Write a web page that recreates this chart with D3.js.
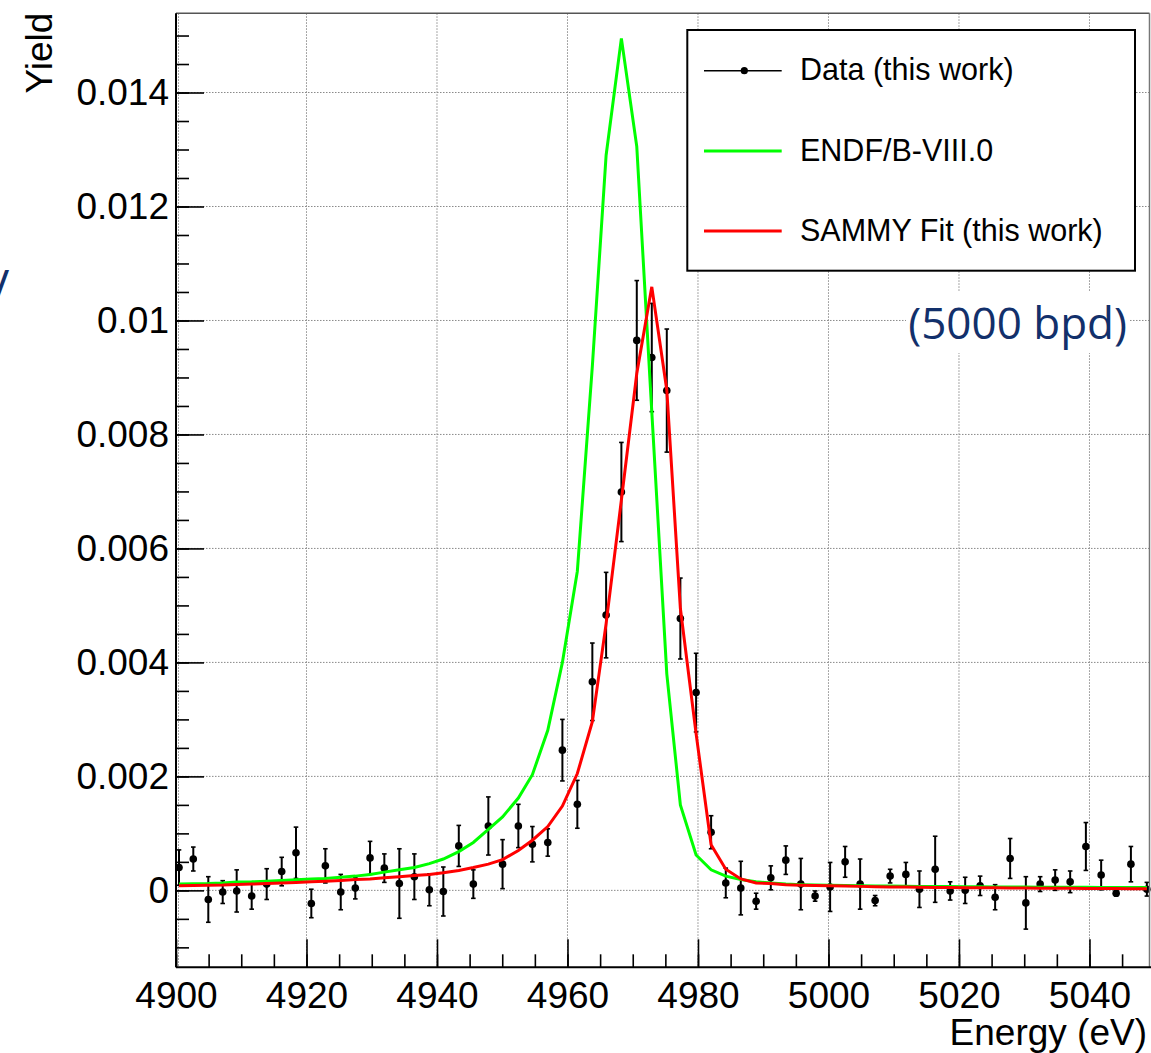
<!DOCTYPE html>
<html>
<head>
<meta charset="utf-8">
<script src="https://cdn.jsdelivr.net/npm/d3@7"></script>
<style>
  html, body { margin: 0; padding: 0; background: #fff; }
  svg { display: block; }
</style>
</head>
<body>
<svg id="chart" width="1151" height="1053"></svg>
<script>
// ---------------- data ----------------
const energies = [4900.46,4902.65,4904.95,4907.16,4909.30,4911.60,4913.90,4916.20,4918.39,4920.74,
  4922.89,4925.25,4927.48,4929.74,4931.93,4934.23,4936.53,4938.83,4940.97,4943.34,
  4945.57,4947.87,4950.05,4952.47,4954.62,4956.98,4959.22,4961.51,4963.81,4965.92,
  4968.26,4970.62,4972.92,4975.22,4977.30,4979.71,4982.01,4984.26,4986.56,4988.91,
  4991.16,4993.46,4995.76,4997.95,5000.25,5002.55,5004.85,5007.15,5009.45,5011.86,
  5013.94,5016.35,5018.65,5020.95,5023.24,5025.54,5027.84,5030.25,5032.44,5034.74,
  5037.04,5039.45,5041.79,5044.09,5046.35,5048.80];

const dataYield = [0.00040,0.00055,-0.00016,-0.00003,-0.00001,-0.00010,0.00011,0.00033,0.00066,-0.00023,
  0.00043,-0.00003,0.00004,0.00057,0.00039,0.00012,0.00024,0.00001,-0.00002,0.00078,
  0.00011,0.00113,0.00046,0.00113,0.00081,0.00084,0.00246,0.00151,0.00366,0.00483,
  0.00699,0.00965,0.00935,0.00877,0.00477,0.00347,0.00102,0.00013,0.00004,-0.00019,
  0.00022,0.00053,0.00011,-0.00010,0.00006,0.00050,0.00011,-0.00018,0.00025,0.00028,
  0.00002,0.00037,-0.00001,0.00000,0.00008,-0.00012,0.00056,-0.00022,0.00011,0.00018,
  0.00015,0.00077,0.00027,-0.00005,0.00046,0.00002];

const dataErr = [0.00031,0.00021,0.00040,0.00020,0.00037,0.00023,0.00027,0.00025,0.00045,0.00025,
  0.00030,0.00031,0.00019,0.00029,0.00025,0.00061,0.00040,0.00028,0.00043,0.00036,
  0.00025,0.00051,0.00043,0.00038,0.00031,0.00024,0.00054,0.00042,0.00068,0.00075,
  0.00087,0.00105,0.00095,0.00108,0.00071,0.00069,0.00029,0.00026,0.00047,0.00014,
  0.00021,0.00025,0.00045,0.00009,0.00043,0.00027,0.00044,0.00009,0.00012,0.00021,
  0.00032,0.00058,0.00016,0.00023,0.00017,0.00022,0.00035,0.00046,0.00013,0.00018,
  0.00019,0.00042,0.00026,0.00005,0.00031,0.00012];

const endfYield = [0.00011,0.000116,0.00012,0.00013,0.000146,0.00015,0.00016,0.000175,0.000186,0.00020,
  0.00021,0.00023,0.00025,0.00028,0.00032,0.00036,0.00040,0.00047,0.00055,0.00068,
  0.00084,0.00107,0.00129,0.00162,0.00203,0.00281,0.00400,0.00560,0.00920,0.01290,
  0.01495,0.01305,0.00840,0.00380,0.00150,0.00062,0.00036,0.00025,0.00019,0.00015,
  0.00013,0.00011,0.00010,0.000095,0.00009,0.000085,0.00008,0.000078,0.000075,0.000072,
  0.00007,0.000068,0.000066,0.000064,0.000062,0.00006,0.000058,0.000057,0.000056,0.000055,
  0.000054,0.000053,0.000052,0.000051,0.00005,0.00005];

const sammyYield = [0.00008,0.000084,0.000088,0.000093,0.000105,0.00011,0.00012,0.000128,0.00014,0.00015,
  0.00016,0.000175,0.00019,0.00020,0.00022,0.00024,0.00026,0.00028,0.00031,0.00035,
  0.00040,0.00046,0.00054,0.00070,0.00088,0.00112,0.00148,0.00205,0.00296,0.00468,
  0.00685,0.00907,0.01059,0.00878,0.00495,0.00275,0.00080,0.00037,0.00020,0.00013,
  0.00012,0.00010,0.00009,0.000085,0.00008,0.000075,0.00007,0.000065,0.00006,0.000058,
  0.000055,0.000052,0.00005,0.000048,0.000046,0.000044,0.000042,0.00004,0.000038,0.000036,
  0.000035,0.000034,0.000033,0.000032,0.00003,0.00003];

const xMajorTicks = [4900,4920,4940,4960,4980,5000,5020,5040];
const xTickLabels = ["4900","4920","4940","4960","4980","5000","5020","5040"];
const xMinorTicks = d3.range(4900, 5050, 5);
const yMajorTicks = [0,0.002,0.004,0.006,0.008,0.010,0.012,0.014];
const yTickLabels = ["0","0.002","0.004","0.006","0.008","0.01","0.012","0.014"];
const yMinorTicks = d3.range(-2, 31).map(i => i * 0.0005);

const legendLabels = ["Data (this work)", "ENDF/B-VIII.0", "SAMMY Fit (this work)"];
const xTitle = "Energy (eV)";
const yTitle = "Yield";
const noteText = "(5000 bpd)";

// ---------------- layout ----------------
const FONT = "'Liberation Sans', Arial, Helvetica, sans-serif";
const L = 176, R = 1149.5, T = 13.3, B = 967.3;
const x = d3.scaleLinear().domain([4900, 5049.2]).range([L, R]);
const y = d3.scaleLinear().domain([-0.00135, 0.01539]).range([B, T]);
const yDom = y.domain();

const svg = d3.select("#chart");

// grid
const grid = svg.append("g");
grid.selectAll("line.vg").data(xMajorTicks).join("line")
  .attr("x1", d => x(d) + (d === 4900 ? 2.5 : 0)).attr("x2", d => x(d) + (d === 4900 ? 2.5 : 0))
  .attr("y1", T).attr("y2", B)
  .attr("stroke", "#8a8a8a").attr("stroke-width", 1).attr("stroke-dasharray", "1.5,1.5");
grid.selectAll("line.hg").data(yMajorTicks).join("line")
  .attr("x1", L).attr("x2", R)
  .attr("y1", d => y(d)).attr("y2", d => y(d))
  .attr("stroke", "#8a8a8a").attr("stroke-width", 1).attr("stroke-dasharray", "1.5,1.5");

// note text with white background
const noteG = svg.append("g");
noteG.append("rect").attr("x", 906).attr("y", 292).attr("width", 224).attr("height", 61).attr("fill", "#fff");
noteG.append("text").attr("x", 1127).attr("y", 339)
  .attr("text-anchor", "end").attr("font-family", "'Open Sans', 'Noto Sans', sans-serif")
  .attr("font-size", 44).attr("fill", "#12306b").text(noteText);

// clipped fragment at left edge
svg.append("text").attr("x", 9).attr("y", 301)
  .attr("text-anchor", "end").attr("font-family", "'Open Sans', 'Noto Sans', sans-serif")
  .attr("font-size", 44).attr("fill", "#12306b").text("V");

// data points with error bars
const pts = energies.map((e, i) => ({e, v: dataYield[i], err: dataErr[i]}));
const dg = svg.append("g");
dg.selectAll("line.eb").data(pts).join("line")
  .attr("x1", d => x(d.e)).attr("x2", d => x(d.e))
  .attr("y1", d => y(d.v - d.err)).attr("y2", d => y(d.v + d.err))
  .attr("stroke", "#000").attr("stroke-width", 2);
dg.selectAll("line.capt").data(pts).join("line")
  .attr("x1", d => x(d.e) - 2.3).attr("x2", d => x(d.e) + 2.3)
  .attr("y1", d => y(d.v + d.err)).attr("y2", d => y(d.v + d.err))
  .attr("stroke", "#000").attr("stroke-width", 1.6);
dg.selectAll("line.capb").data(pts).join("line")
  .attr("x1", d => x(d.e) - 2.3).attr("x2", d => x(d.e) + 2.3)
  .attr("y1", d => y(d.v - d.err)).attr("y2", d => y(d.v - d.err))
  .attr("stroke", "#000").attr("stroke-width", 1.6);
dg.selectAll("circle").data(pts).join("circle")
  .attr("cx", d => x(d.e)).attr("cy", d => y(d.v)).attr("r", 3.8).attr("fill", "#000");

// curves
const line = d3.line().x(d => x(d[0])).y(d => y(d[1]));
svg.append("path").datum(energies.map((e, i) => [e, endfYield[i]]))
  .attr("d", line).attr("fill", "none").attr("stroke", "#00ff00").attr("stroke-width", 3)
  .attr("stroke-linejoin", "miter");
svg.append("path").datum(energies.map((e, i) => [e, sammyYield[i]]))
  .attr("d", line).attr("fill", "none").attr("stroke", "#ff0000").attr("stroke-width", 3)
  .attr("stroke-linejoin", "miter");

// frame
svg.append("line").attr("x1", L).attr("x2", R).attr("y1", T).attr("y2", T).attr("stroke", "#555").attr("stroke-width", 1.5);
svg.append("line").attr("x1", R).attr("x2", R).attr("y1", T).attr("y2", B).attr("stroke", "#777").attr("stroke-width", 1.5);

// axes
const yMinorAxis = d3.axisLeft(y)
  .tickValues(yMinorTicks.filter(v => v >= yDom[0] && v <= yDom[1]))
  .tickSizeInner(-13).tickSizeOuter(0).tickFormat("");
const yMajorAxis = d3.axisLeft(y).tickValues(yMajorTicks).tickSizeInner(-28).tickSizeOuter(0).tickPadding(7)
  .tickFormat((d, i) => yTickLabels[i]);
const xMinorAxis = d3.axisBottom(x).tickValues(xMinorTicks).tickSizeInner(-13).tickSizeOuter(0).tickFormat("");
const xMajorAxis = d3.axisBottom(x).tickValues(xMajorTicks).tickSizeInner(-28).tickSizeOuter(0).tickPadding(14)
  .tickFormat((d, i) => xTickLabels[i]);

function styleAxis(g) {
  g.select(".domain").remove();
  g.selectAll(".tick line").attr("stroke", "#000").attr("stroke-width", 1.6);
  g.selectAll(".tick text").attr("font-family", FONT).attr("font-size", 37).attr("fill", "#000");
}
svg.append("g").attr("transform", `translate(${L},0)`).call(yMinorAxis).call(styleAxis);
svg.append("g").attr("transform", `translate(${L},0)`).call(yMajorAxis).call(styleAxis);
svg.append("g").attr("transform", `translate(0,${B})`).call(xMinorAxis).call(styleAxis);
svg.append("g").attr("transform", `translate(0,${B})`).call(xMajorAxis).call(styleAxis);

svg.append("line").attr("x1", L).attr("x2", L).attr("y1", T).attr("y2", B).attr("stroke", "#000").attr("stroke-width", 2);
svg.append("line").attr("x1", L).attr("x2", R + 2).attr("y1", B).attr("y2", B).attr("stroke", "#000").attr("stroke-width", 2);

// axis titles
svg.append("text").attr("x", 1147).attr("y", 1045).attr("text-anchor", "end")
  .attr("font-family", FONT).attr("font-size", 37).attr("fill", "#000").text(xTitle);
svg.append("text").attr("transform", "translate(52,12.7) rotate(-90)").attr("text-anchor", "end")
  .attr("font-family", FONT).attr("font-size", 37).attr("fill", "#000").text(yTitle);

// legend
const lg = svg.append("g");
lg.append("rect").attr("x", 687.3).attr("y", 30).attr("width", 447.7).attr("height", 240.7)
  .attr("fill", "#fff").attr("stroke", "#000").attr("stroke-width", 2);
const legY = [70.7, 151, 231];
const legColors = ["#000", "#00ff00", "#ff0000"];
const legWidths = [1.6, 3, 3];
legendLabels.forEach((lab, i) => {
  lg.append("line").attr("x1", 704).attr("x2", 781.7).attr("y1", legY[i]).attr("y2", legY[i])
    .attr("stroke", legColors[i]).attr("stroke-width", legWidths[i]);
  if (i === 0) lg.append("circle").attr("cx", 744.3).attr("cy", legY[i]).attr("r", 3.6).attr("fill", "#000");
  lg.append("text").attr("x", 800).attr("y", legY[i] + 9.5).attr("font-family", FONT)
    .attr("font-size", 30.5).attr("fill", "#000").text(lab);
});
</script>
</body>
</html>
